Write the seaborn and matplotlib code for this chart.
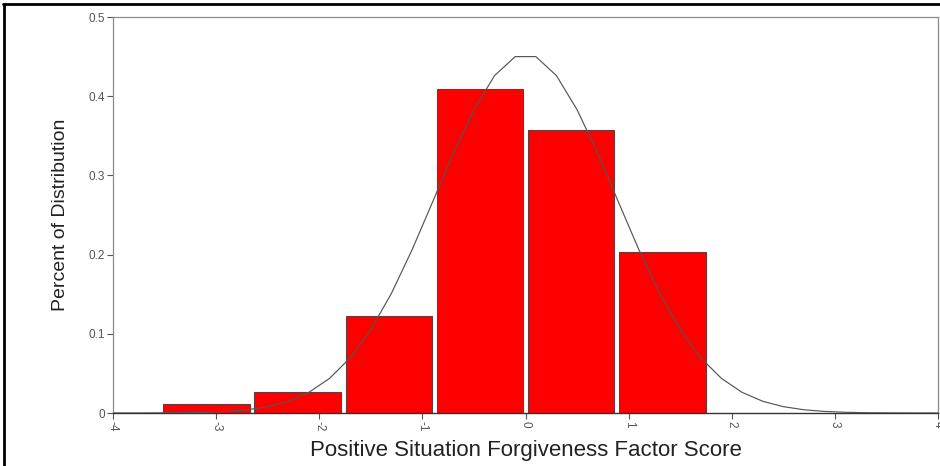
import matplotlib
matplotlib.use("Agg")
import matplotlib.pyplot as plt
from matplotlib.lines import Line2D
import seaborn as sns

# Histogram bins (centres) and share of respondents in each bin
bin_centers = [-3.093, -2.209, -1.325, -0.441, 0.443, 1.327]
percent = [0.011, 0.026, 0.122, 0.409, 0.357, 0.203]

# Fitted normal curve, sampled points
curve_x = [-4.0, -3.9, -3.7, -3.5, -3.3, -3.1, -2.9, -2.7, -2.5, -2.3, -2.1,
           -1.9, -1.7, -1.5, -1.3, -1.1, -0.9, -0.7, -0.5, -0.3, -0.1,
           0.1, 0.3, 0.5, 0.7, 0.9, 1.1, 1.3, 1.5, 1.7, 1.9,
           2.1, 2.3, 2.5, 2.7, 2.9, 3.1, 3.3, 3.5, 3.7, 3.9, 4.0]
curve_y = [0.0, 0.0001, 0.0001, 0.0002, 0.0004, 0.0009, 0.0020, 0.0041, 0.0080, 0.0148, 0.0261,
           0.0437, 0.0696, 0.1053, 0.1511, 0.2060, 0.2667, 0.3280, 0.3830, 0.4260, 0.4500,
           0.4500, 0.4260, 0.3830, 0.3280, 0.2667, 0.2060, 0.1511, 0.1053, 0.0696, 0.0437,
           0.0261, 0.0148, 0.0080, 0.0041, 0.0020, 0.0009, 0.0004, 0.0002, 0.0001, 0.0001, 0.0]

x_ticks = [-4, -3, -2, -1, 0, 1, 2, 3, 4]
x_tick_labels = ["-4", "-3", "-2", "-1", "0", "1", "2", "3", "4"]
y_ticks = [0, 0.1, 0.2, 0.3, 0.4, 0.5]
y_tick_labels = ["0", "0.1", "0.2", "0.3", "0.4", "0.5"]

sns.set_theme(style="white")
plt.rcParams["font.family"] = ["Liberation Sans", "DejaVu Sans"]

fig = plt.figure(figsize=(9.4, 4.66), dpi=100)
ax = fig.add_axes([113 / 940, 1 - 413 / 466, (938 - 113) / 940, (413 - 17) / 466])

sns.barplot(x=bin_centers, y=percent, native_scale=True, width=0.95,
            color="#ff0000", saturation=1, edgecolor="#6a3a3a", linewidth=0.8,
            ax=ax, zorder=2)
sns.lineplot(x=curve_x, y=curve_y, color="#555555", linewidth=0.85, ax=ax, zorder=3)

ax.set_xlim(-4, 4)
ax.set_ylim(0, 0.5)
ax.set_xticks(x_ticks)
ax.set_xticklabels(x_tick_labels, rotation=-90, fontsize=8.5, color="#555555")
ax.set_yticks(y_ticks)
ax.set_yticklabels(y_tick_labels, fontsize=8.5, color="#555555")
ax.tick_params(axis="both", which="major", direction="out", length=4, width=0.8,
               color="#555555", pad=2, bottom=True, left=True)

ax.set_xlabel("Positive Situation Forgiveness Factor Score", fontsize=16,
              color="#222222", labelpad=6)
ax.set_ylabel("Percent of Distribution", fontsize=14, color="#222222", labelpad=14)

for side in ["left", "top", "right"]:
    ax.spines[side].set_color("#8c8c8c")
    ax.spines[side].set_linewidth(0.9)
ax.spines["bottom"].set_color("#333333")
ax.spines["bottom"].set_linewidth(1.0)

# Outer frame lines along the top and left of the figure
fig.add_artist(Line2D([3 / 940, 1.0], [1 - 4 / 466, 1 - 4 / 466], color="black",
                      linewidth=2, transform=fig.transFigure))
fig.add_artist(Line2D([4 / 940, 4 / 940], [0.0, 1 - 4 / 466], color="black",
                      linewidth=2, transform=fig.transFigure))

fig.savefig("out.png", dpi=100)
